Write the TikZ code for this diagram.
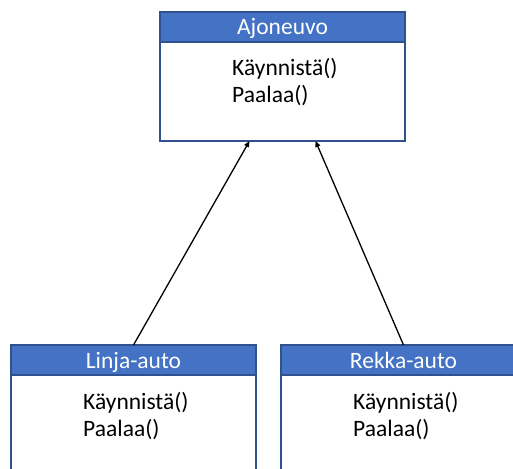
\documentclass[tikz,border=0pt]{standalone}
\usepackage{fontspec}
\setmainfont{Carlito}
\usetikzlibrary{arrows.meta,calc}
\definecolor{hdrfill}{HTML}{4472C4}
\definecolor{hdrline}{HTML}{2F528F}
\begin{document}
\begin{tikzpicture}[x=1pt,y=-1pt,
  classbody/.style={draw=hdrline,line width=1.4pt,fill=white,rectangle,anchor=north west,
    minimum width=245pt,inner sep=0pt,outer sep=0pt},
  classhead/.style={draw=hdrline,line width=1.4pt,fill=hdrfill,rectangle,anchor=north west,
    minimum width=245pt,minimum height=30pt,inner sep=0pt,outer sep=0pt},
  headtext/.style={anchor=base,text=white,inner sep=0pt,font=\fontsize{23.5}{27}\selectfont},
  methods/.style={anchor=base west,align=left,inner sep=0pt,text=black,font=\fontsize{23.5}{26.8}\selectfont},
  inherit/.style={draw=black,line width=1.3pt,-{Triangle[length=6pt,width=5pt]}}]
\useasboundingbox (0,0) rectangle (513,468);
\begin{scope}
\clip (0,0) rectangle (513,468);
% base class (method list is anchored on the baseline of its last line)
\node[classbody,minimum height=129pt] (veh) at (160,12) {};
\node[classhead] (vehh) at (160,12) {};
\node[headtext] (vehn) at (282.5,35) {Ajoneuvo};
\node[methods] (vehm) at (232,102.5) {Käynnistä()\\Paalaa()};
% subclasses
\node[classbody,minimum height=140pt] (bus) at (11,345) {};
\node[classhead] (bush) at (11,345) {};
\node[headtext] (busn) at (133.5,368) {Linja-auto};
\node[methods] (busm) at (83,436) {Käynnistä()\\Paalaa()};
\node[classbody,minimum height=140pt] (truck) at (281,345) {};
\node[classhead] (truckh) at (281,345) {};
\node[headtext] (truckn) at (403.5,368) {Rekka-auto};
\node[methods] (truckm) at (353,436) {Käynnistä()\\Paalaa()};
\end{scope}
% inheritance arrows
\coordinate (vehL) at ($(veh.south)+(-33,0)$);
\coordinate (vehR) at ($(veh.south)+(33,0)$);
\draw[inherit] (bush.north) -- (vehL);
\draw[inherit] (truckh.north) -- (vehR);
\end{tikzpicture}
\end{document}
